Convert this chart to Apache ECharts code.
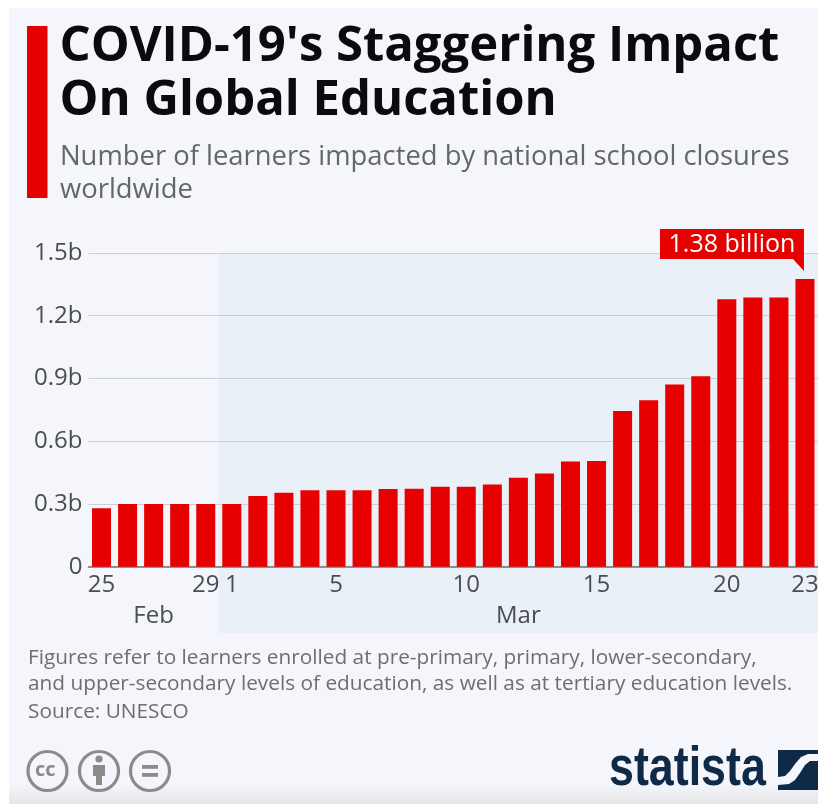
<!DOCTYPE html>
<html><head><meta charset="utf-8">
<style>html,body{margin:0;padding:0;background:#fff}#c{width:818px;height:804px}</style>
<script src="https://cdn.jsdelivr.net/npm/echarts@6/dist/echarts.min.js"></script>
</head><body><div id="c"></div>
<script>
const days = ['25','26','27','28','29','1','2','3','4','5','6','7','8','9','10','11','12','13','14','15','16','17','18','19','20','21','22','23'];
const learners = [0.279,0.30,0.30,0.30,0.30,0.30,0.338,0.354,0.366,0.366,0.366,0.371,0.373,0.382,0.382,0.393,0.425,0.446,0.503,0.506,0.744,0.796,0.871,0.911,1.279,1.287,1.287,1.376];
const shownDays = ['25','29','1','5','10','15','20','23'];
const febCenterIndex = 2, marCenterIndex = 16;
const yTickLabels = ['0','0.3b','0.6b','0.9b','1.2b','1.5b'];
const titleLines = ["COVID-19's Staggering Impact","On Global Education"];
const subtitleLines = ['Number of learners impacted by national school closures','worldwide'];
const noteLines = ['Figures refer to learners enrolled at pre-primary, primary, lower-secondary,','and upper-secondary levels of education, as well as at tertiary education levels.'];
const sourceText = 'Source: UNESCO';
const calloutText = '1.38 billion';
const logoText = 'statista';

const F = '"Open Sans"';
const RED = '#e60000';
const NAVY = '#0f2a47';
const PAPER = '#f5f6fb';
const gridLeft = 88.5, gridTop = 253, gridBottomY = 566.7, W = 818;
const band = (W - gridLeft) / days.length;
const marBoundary = gridLeft + band * days.indexOf('1');

function txt(x, y, text, size, color, weight, family){
  return {type:'text', x, y, z:5, style:{text, fontFamily:family||F, fontSize:size, fontWeight:weight||'normal', fill:color, verticalAlign:'middle'}};
}
function ring(cx){ return {type:'circle', z:5, shape:{cx, cy:771, r:19.5}, style:{fill:'none', stroke:'#8b8b8b', lineWidth:3.2}}; }

const chart = echarts.init(document.getElementById('c'), null, {renderer:'canvas'});
chart.setOption({
  animation:false,
  backgroundColor:'#ffffff',
  grid:{left:gridLeft, right:0, top:gridTop, height:gridBottomY-gridTop, outerBoundsMode:'none'},
  xAxis:{type:'category', data:days, boundaryGap:true,
    axisTick:{show:false},
    axisLine:{lineStyle:{color:'#6f7276', width:1.5}},
    axisLabel:{
      margin:3, fontFamily:F, fontSize:24, color:'#4a4d52', lineHeight:31, hideOverlap:false,
      interval:(i,v)=> shownDays.includes(v) || i===febCenterIndex || i===marCenterIndex,
      formatter:(v,i)=> i===febCenterIndex ? '\nFeb' : i===marCenterIndex ? '\nMar' : v
    }},
  yAxis:{type:'value', min:0, max:1.5, interval:0.3,
    axisLine:{show:false}, axisTick:{show:false},
    splitLine:{lineStyle:{color:'#cbced6', width:1.2}},
    axisLabel:{margin:6, padding:[2,0,0,0], fontFamily:F, fontSize:24, color:'#4a4d52', formatter:v=>yTickLabels[Math.round(v/0.3)]}},
  series:[{type:'bar', data:learners, barCategoryGap:'27%', itemStyle:{color:RED},
    markPoint:{
      symbol:'path://M0 0L144 0L144 42L133 30L0 30Z', symbolSize:[144,42], symbolKeepAspect:false,
      symbolOffset:[-73,-29], itemStyle:{color:RED},
      silent:true,
      label:{show:true, position:'inside', offset:[0,-5], formatter:calloutText, fontFamily:F, fontSize:25, color:'#fff'},
      data:[{coord:[days.length-1, learners[learners.length-1]]}]
    }}],
  graphic:{elements:[
    {type:'rect', z:-3, shape:{x:9,y:8,width:809,height:796}, style:{fill:new echarts.graphic.LinearGradient(0,0,0,1,[{offset:0,color:PAPER},{offset:0.975,color:PAPER},{offset:1,color:'#e4e4e8'}])}},
    {type:'rect', z:-2, shape:{x:marBoundary,y:gridTop,width:W-marBoundary,height:380}, style:{fill:'#eaf0f8'}},
    {type:'rect', z:5, shape:{x:27,y:26,width:20.5,height:172}, style:{fill:RED}},
    txt(59.5,47,titleLines[0],49,'#0b0b0d','bold'),
    txt(59.5,101,titleLines[1],49,'#0b0b0d','bold'),
    txt(60,157,subtitleLines[0],27.4,'#63666b'),
    txt(60,190,subtitleLines[1],27.4,'#63666b'),
    txt(28,658,noteLines[0],20.8,'#6c6e73'),
    txt(28,684,noteLines[1],20.8,'#6c6e73'),
    txt(28,712,sourceText,20.8,'#6c6e73'),
    ring(47.5), ring(99), ring(150),
    txt(35,770,'cc',20,'#8b8b8b','bold'),
    {type:'circle', z:5, shape:{cx:99,cy:759,r:3.6}, style:{fill:'#8b8b8b'}},
    {type:'polygon', z:5, shape:{points:[[93,765],[105,765],[105,776],[102,776],[102,785],[96,785],[96,776],[93,776]]}, style:{fill:'#8b8b8b'}},
    {type:'rect', z:5, shape:{x:142,y:765,width:16,height:3.8}, style:{fill:'#8b8b8b'}},
    {type:'rect', z:5, shape:{x:142,y:773,width:16,height:3.8}, style:{fill:'#8b8b8b'}},
    Object.assign(txt(609,770,logoText,56,NAVY,'bold','"Liberation Sans"'),{scaleX:0.8}),
    {type:'rect', z:5, shape:{x:778,y:750,width:40,height:40}, style:{fill:NAVY}},
    {type:'polygon', z:6, shape:{points:[[778,777],[785,776],[790,771],[795,764],[801,757],[808,754],[818,754],[818,761],[810,761],[805,765],[800,773],[795,780],[789,784],[778,785]]}, style:{fill:PAPER}}
  ]}
});
</script></body></html>
